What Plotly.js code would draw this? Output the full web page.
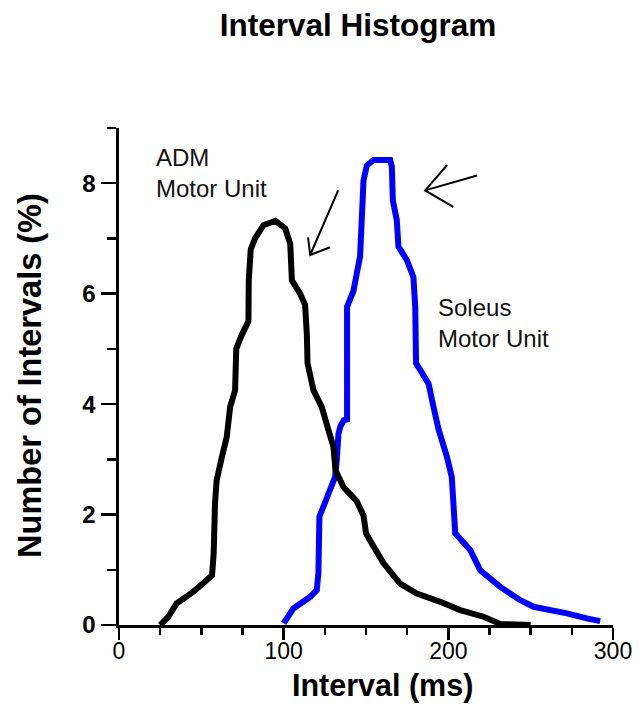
<!DOCTYPE html>
<html>
<head>
<meta charset="utf-8">
<script src="https://cdn.plot.ly/plotly-3.0.1.min.js"></script>
<style>html,body{margin:0;padding:0;background:#fff;}#chart{width:640px;height:704px;}</style>
</head>
<body>
<div id="chart"></div>
<script>
// ADM motor unit (black) interval histogram
var admInterval = [25, 30, 35, 45, 52, 56.5, 57.5, 58.3, 59.3, 62.3, 65.4, 67.5, 70.5, 71.2, 74.5, 78.6, 78.8, 80, 82.6, 87.7, 95, 101, 104, 105, 110, 113, 114.1, 114.5, 118.1, 123.1, 127.2, 130.2, 131.5, 136.3, 144.4, 148.5, 150, 154.6, 160.6, 170.7, 180.9, 195.1, 207.2, 221.4, 231.5, 250];
var admPercent  = [0, 0.15, 0.39, 0.60, 0.78, 0.9, 1.3, 2.2, 2.62, 3.02, 3.4, 3.95, 4.25, 5.0, 5.25, 5.5, 6.24, 6.8, 7.0, 7.24, 7.32, 7.18, 6.9, 6.24, 6.0, 5.8, 5.25, 4.74, 4.25, 3.95, 3.53, 3.23, 2.8, 2.5, 2.24, 1.98, 1.66, 1.42, 1.12, 0.75, 0.57, 0.42, 0.27, 0.15, 0.02, 0];

// Soleus motor unit (blue) interval histogram
var solInterval = [100, 105.9, 116.1, 120.1, 121.1, 121.7, 126.2, 131.2, 132.3, 133.3, 134.5, 136.5, 138.5, 138.5, 142.4, 144.4, 146.4, 148.5, 150.5, 154.6, 164.7, 165.7, 166.3, 168.7, 169.7, 174.8, 178.8, 179.9, 180.4, 182.9, 188, 191, 194, 199.1, 202.1, 204.2, 213.3, 219.4, 231.5, 243.7, 251.8, 272, 284.1, 292.2];
var solPercent  = [0.03, 0.30, 0.51, 0.63, 0.94, 1.96, 2.3, 2.68, 3.0, 3.47, 3.6, 3.71, 3.72, 5.76, 6.05, 6.37, 6.67, 8.05, 8.32, 8.42, 8.42, 8.3, 7.69, 7.33, 6.85, 6.61, 6.3, 5.76, 4.74, 4.62, 4.37, 3.95, 3.55, 3.05, 2.68, 1.66, 1.36, 0.99, 0.69, 0.45, 0.33, 0.21, 0.12, 0.07];

var xTickVals = [0, 100, 200, 300];
var xTickText = ['0', '100', '200', '300'];
var yTickVals = [0, 2, 4, 6, 8];
var yTickText = ['0', '2', '4', '6', '8'];

var chartTitle = 'Interval Histogram';
var xTitle = 'Interval (ms)';
var yTitle = 'Number of Intervals (%)';
var admLabel = 'ADM<br>Motor Unit';
var solLabel = 'Soleus<br>Motor Unit';

// arrow geometry in data units (tail, head, wing1, wing2)
var admArrow = {tail: [133.1, 7.87], head: [116.1, 6.70], w1: [128.2, 6.84], w2: [114.8, 7.02]};
var solArrow = {tail: [217.5, 8.14], head: [185.9, 7.87], w1: [199.3, 8.33], w2: [203.0, 7.57]};

function arrowPath(a) {
  return 'M' + a.tail[0] + ',' + a.tail[1] + ' L' + a.head[0] + ',' + a.head[1] +
         ' M' + a.w1[0] + ',' + a.w1[1] + ' L' + a.head[0] + ',' + a.head[1] +
         ' L' + a.w2[0] + ',' + a.w2[1];
}

var FONT = 'Liberation Sans, Arial, Helvetica, sans-serif';

var traces = [
  {x: solInterval, y: solPercent, mode: 'lines', name: 'Soleus Motor Unit',
   line: {color: '#0000ff', width: 6, simplify: false}, hoverinfo: 'x+y'},
  {x: admInterval, y: admPercent, mode: 'lines', name: 'ADM Motor Unit',
   line: {color: '#000000', width: 6, simplify: false}, hoverinfo: 'x+y'}
];

var layout = {
  width: 640, height: 704,
  margin: {l: 119, r: 27.3, t: 128, b: 79, pad: 0},
  paper_bgcolor: '#ffffff', plot_bgcolor: '#ffffff',
  showlegend: false,
  font: {family: FONT, color: '#000'},
  title: {text: '<b>' + chartTitle + '</b>', font: {family: FONT, size: 31.5, color: '#000'},
          xref: 'container', x: 358 / 640, xanchor: 'center',
          yref: 'container', y: 1 - 25 / 704, yanchor: 'middle'},
  xaxis: {
    range: [0, 300], showgrid: false, zeroline: false,
    showline: true, linecolor: '#000', linewidth: 3,
    tickmode: 'array', tickvals: xTickVals, ticktext: xTickText,
    ticks: 'outside', ticklen: 12, tickwidth: 2.5, tickcolor: '#000',
    ticklabelstandoff: -9,
    tickfont: {family: FONT, size: 23, color: '#000'},
    minor: {dtick: 25, tick0: 0, ticks: 'outside', ticklen: 7, tickwidth: 2.5, tickcolor: '#000', showgrid: false}
  },
  yaxis: {
    range: [0, 9], showgrid: false, zeroline: false,
    showline: true, linecolor: '#000', linewidth: 3.5,
    tickmode: 'array', tickvals: yTickVals, ticktext: yTickText,
    ticks: 'outside', ticklen: 15, tickwidth: 2.5, tickcolor: '#000',
    tickfont: {family: FONT, size: 24, color: '#000', weight: 'bold'},
    minor: {dtick: 1, tick0: 0, ticks: 'outside', ticklen: 9, tickwidth: 2.5, tickcolor: '#000', showgrid: false}
  },
  annotations: [
    {text: '<b>' + xTitle + '</b>', xref: 'paper', yref: 'paper',
     x: (382 - 119) / 493.7, y: (625 - 685) / 497, xanchor: 'center', yanchor: 'middle',
     showarrow: false, font: {family: FONT, size: 30.5, color: '#000'}},
    {text: '<b>' + yTitle + '</b>', xref: 'paper', yref: 'paper', textangle: -90,
     x: (30 - 119) / 493.7, y: (625 - 375) / 497, xanchor: 'center', yanchor: 'middle',
     showarrow: false, font: {family: FONT, size: 32.5, color: '#000'}},
    {text: admLabel, xref: 'paper', yref: 'paper', align: 'left',
     x: (154 - 119) / 493.7, y: (625 - 142) / 497, xanchor: 'left', yanchor: 'top',
     showarrow: false, font: {family: FONT, size: 24, color: '#111'}},
    {text: solLabel, xref: 'paper', yref: 'paper', align: 'left',
     x: (436 - 119) / 493.7, y: (625 - 292) / 497, xanchor: 'left', yanchor: 'top',
     showarrow: false, font: {family: FONT, size: 24, color: '#111'}}
  ],
  shapes: [
    {type: 'path', xref: 'x', yref: 'y', path: arrowPath(admArrow), line: {color: '#000', width: 2}},
    {type: 'path', xref: 'x', yref: 'y', path: arrowPath(solArrow), line: {color: '#000', width: 2}}
  ]
};

Plotly.newPlot('chart', traces, layout, {displayModeBar: false, staticPlot: true});
</script>
</body>
</html>
